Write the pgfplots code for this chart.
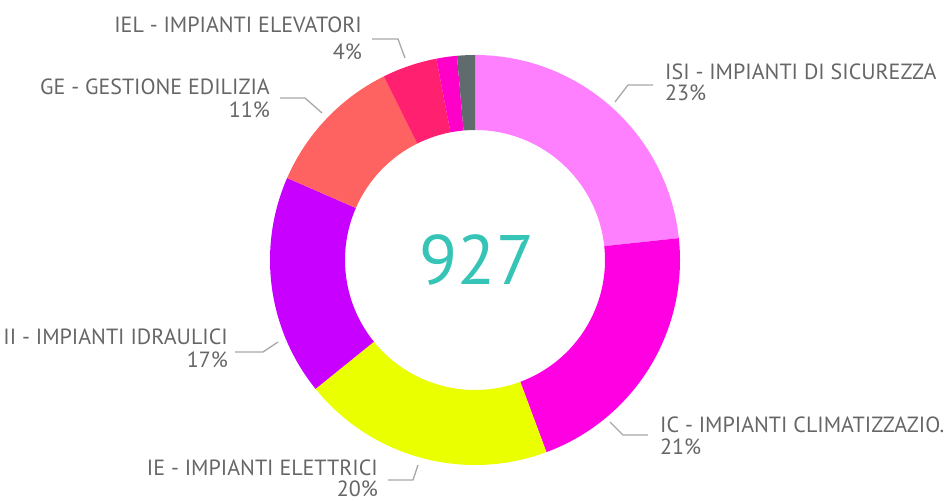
\documentclass[border=0pt]{standalone}
\usepackage{pgfplots}
\usepackage{pgfplotstable}
\usepackage{fontspec}
\setmainfont{PT Sans}
\pgfplotsset{compat=1.18}

\definecolor{s0}{HTML}{FF80FF}
\definecolor{s1}{HTML}{FF00E3}
\definecolor{s2}{HTML}{EAFF00}
\definecolor{s3}{HTML}{C800FF}
\definecolor{s4}{HTML}{FF6361}
\definecolor{s5}{HTML}{FF2070}
\definecolor{s6}{HTML}{FF00C8}
\definecolor{s7}{HTML}{5F6B6D}
\definecolor{txt}{HTML}{666666}
\definecolor{lead}{HTML}{A8A8A8}
\definecolor{teal}{HTML}{35C4B5}

\pgfplotstableread{
name value
ISI 216
IC 195
IE 184
II 161
GE 103
IEL 40
XX 15
YY 13
}\datatable

\begin{document}
\begin{tikzpicture}
\def\cum{0}
\pgfplotsforeachungrouped \i in {0,...,7}{%
  \pgfplotstablegetelem{\i}{value}\of\datatable
  \expandafter\xdef\csname c\i\endcsname{\cum}%
  \pgfmathsetmacro\nc{\cum+\pgfplotsretval}%
  \xdef\cum{\nc}%
}
\expandafter\xdef\csname c8\endcsname{\cum}
\pgfmathsetmacro\total{\cum}
\begin{axis}[
  width=946pt, height=501pt, scale only axis,
  xmin=0, xmax=946, ymin=0, ymax=501,
  hide axis, clip=false,
]
\coordinate (bl) at (axis cs:0,0);
\coordinate (tr) at (axis cs:946,501);
\pgfplotsinvokeforeach{0,...,7}{
  \pgfmathsetmacro\fS{\csname c#1\endcsname/\total}
  \pgfmathtruncatemacro\nx{#1+1}
  \pgfmathsetmacro\fE{\csname c\nx\endcsname/\total}
  \pgfmathsetmacro\aS{90-360*\fS}
  \pgfmathsetmacro\aE{90-360*\fE}
  \edef\temp{\noexpand\fill[s#1] (axis cs:{475+205*cos(\aS)},{241+205*sin(\aS)}) arc[start angle=\aS, end angle=\aE, radius=205pt] -- (axis cs:{475+130*cos(\aE)},{241+130*sin(\aE)}) arc[start angle=\aE, end angle=\aS, radius=130pt] -- cycle;}
  \temp
}
% leader lines
\draw[lead, line width=1.3pt] (axis cs:372,462) -- (axis cs:398,462) -- (axis cs:405,443);
\draw[lead, line width=1.3pt] (axis cs:280,403) -- (axis cs:305,403) -- (axis cs:322,388);
\draw[lead, line width=1.3pt] (axis cs:653,416) -- (axis cs:628,416) -- (axis cs:615,399);
\draw[lead, line width=1.3pt] (axis cs:235,149) -- (axis cs:263,149) -- (axis cs:278,159);
\draw[lead, line width=1.3pt] (axis cs:610,79) -- (axis cs:623,66) -- (axis cs:648,66);
\draw[lead, line width=1.3pt] (axis cs:388,21) -- (axis cs:413,21) -- (axis cs:418,36);
% labels
\tikzset{lab/.style={font=\fontsize{22}{26}\selectfont, text=txt, inner sep=0pt}}
\node[lab, anchor=base east] at (axis cs:362,468) {IEL - IMPIANTI ELEVATORI};
\node[lab, anchor=base east] at (axis cs:362,441) {4\%};
\node[lab, anchor=base east] at (axis cs:270,406) {GE - GESTIONE EDILIZIA};
\node[lab, anchor=base east] at (axis cs:270,383) {11\%};
\node[lab, anchor=base west] at (axis cs:665,421) {ISI - IMPIANTI DI SICUREZZA};
\node[lab, anchor=base west] at (axis cs:665,400) {23\%};
\node[lab, anchor=base east] at (axis cs:228,156) {II - IMPIANTI IDRAULICI};
\node[lab, anchor=base east] at (axis cs:228,133) {17\%};
\node[lab, anchor=base west] at (axis cs:660,69) {IC - IMPIANTI CLIMATIZZAZIO.};
\node[lab, anchor=base west] at (axis cs:660,46) {21\%};
\node[lab, anchor=base east] at (axis cs:378,26) {IE - IMPIANTI ELETTRICI};
\node[lab, anchor=base east] at (axis cs:378,5) {20\%};
\node[font=\fontsize{70}{80}\selectfont, text=teal, inner sep=0pt] at (axis cs:477,241) {927};
\end{axis}
\pgfresetboundingbox
\path[use as bounding box] (bl) rectangle (tr);
\end{tikzpicture}
\end{document}
